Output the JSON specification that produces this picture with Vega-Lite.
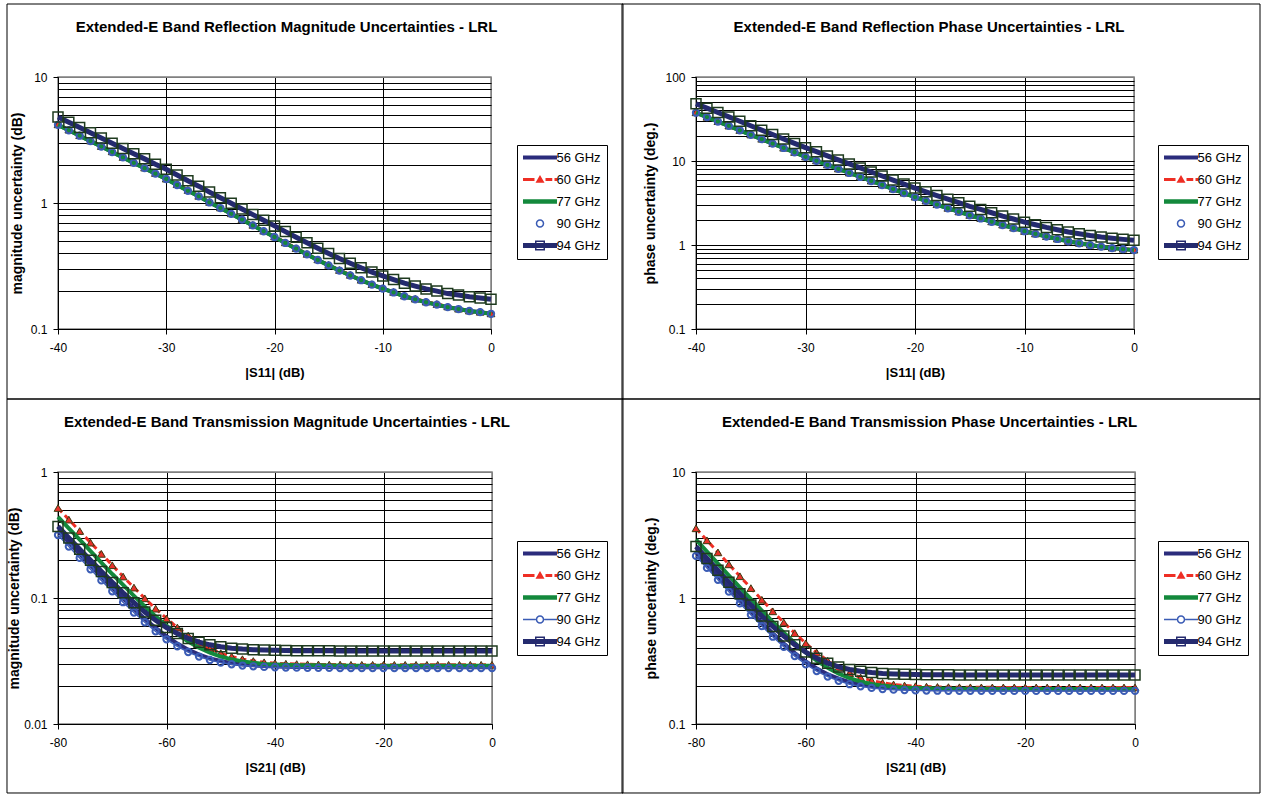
{
"$schema": "https://vega.github.io/schema/vega-lite/v6.json",
"background": "white",
"padding": {"left": 5, "top": 2, "right": 2, "bottom": 1},
"config": {
 "font": "Liberation Sans",
 "view": {"stroke": "#808080", "strokeWidth": 1.5},
 "axis": {"domainColor": "#000000", "domainWidth": 1, "tickColor": "#000000", "tickSize": 5, "tickWidth": 1, "gridColor": "#000000", "gridWidth": 1, "gridOpacity": 1, "labelFontSize": 12, "labelColor": "#000000", "labelPadding": 6, "labelFlush": false, "labelOverlap": false, "titleFontWeight": "bold", "titleColor": "#000000", "labelFont": "Liberation Sans", "titleFont": "Liberation Sans"},
 "axisX": {"titlePadding": 13, "titleFontSize": 13, "labelPadding": 8},
 "axisY": {"titleFontSize": 14},
 "title": {"fontSize": 15, "fontWeight": "bold", "color": "#000000", "font": "Liberation Sans"},
 "legend": {"title": null, "symbolSize": 100, "symbolStrokeWidth": 0, "symbolOffset": 10.5, "labelOffset": 10, "padding": 6, "rowPadding": 8, "strokeColor": "#000000", "fillColor": "#ffffff", "labelFontSize": 13, "labelColor": "#000000", "labelFont": "Liberation Sans", "symbolOpacity": 1}
},
"datasets": {
"rm": [
{"x":-40,"56 GHz":4.17,"60 GHz":4.21,"77 GHz":4.17,"90 GHz":4.17,"94 GHz":4.82},
{"x":-39,"56 GHz":3.78,"60 GHz":3.82,"77 GHz":3.78,"90 GHz":3.78,"94 GHz":4.38},
{"x":-38,"56 GHz":3.42,"60 GHz":3.45,"77 GHz":3.42,"90 GHz":3.42,"94 GHz":3.98},
{"x":-37,"56 GHz":3.10,"60 GHz":3.13,"77 GHz":3.10,"90 GHz":3.10,"94 GHz":3.61},
{"x":-36,"56 GHz":2.81,"60 GHz":2.83,"77 GHz":2.81,"90 GHz":2.81,"94 GHz":3.28},
{"x":-35,"56 GHz":2.54,"60 GHz":2.57,"77 GHz":2.54,"90 GHz":2.54,"94 GHz":2.98},
{"x":-34,"56 GHz":2.30,"60 GHz":2.32,"77 GHz":2.30,"90 GHz":2.30,"94 GHz":2.71},
{"x":-33,"56 GHz":2.08,"60 GHz":2.10,"77 GHz":2.08,"90 GHz":2.08,"94 GHz":2.46},
{"x":-32,"56 GHz":1.89,"60 GHz":1.91,"77 GHz":1.89,"90 GHz":1.89,"94 GHz":2.24},
{"x":-31,"56 GHz":1.71,"60 GHz":1.73,"77 GHz":1.71,"90 GHz":1.71,"94 GHz":2.03},
{"x":-30,"56 GHz":1.55,"60 GHz":1.56,"77 GHz":1.55,"90 GHz":1.55,"94 GHz":1.85},
{"x":-29,"56 GHz":1.39,"60 GHz":1.41,"77 GHz":1.39,"90 GHz":1.39,"94 GHz":1.67},
{"x":-28,"56 GHz":1.25,"60 GHz":1.27,"77 GHz":1.25,"90 GHz":1.25,"94 GHz":1.50},
{"x":-27,"56 GHz":1.13,"60 GHz":1.14,"77 GHz":1.13,"90 GHz":1.13,"94 GHz":1.36},
{"x":-26,"56 GHz":1.01,"60 GHz":1.02,"77 GHz":1.01,"90 GHz":1.01,"94 GHz":1.22},
{"x":-25,"56 GHz":0.912,"60 GHz":0.921,"77 GHz":0.912,"90 GHz":0.912,"94 GHz":1.10},
{"x":-24,"56 GHz":0.820,"60 GHz":0.828,"77 GHz":0.820,"90 GHz":0.820,"94 GHz":0.994},
{"x":-23,"56 GHz":0.738,"60 GHz":0.745,"77 GHz":0.738,"90 GHz":0.738,"94 GHz":0.897},
{"x":-22,"56 GHz":0.664,"60 GHz":0.671,"77 GHz":0.664,"90 GHz":0.664,"94 GHz":0.809},
{"x":-21,"56 GHz":0.597,"60 GHz":0.603,"77 GHz":0.597,"90 GHz":0.597,"94 GHz":0.730},
{"x":-20,"56 GHz":0.537,"60 GHz":0.542,"77 GHz":0.537,"90 GHz":0.537,"94 GHz":0.658},
{"x":-19,"56 GHz":0.482,"60 GHz":0.487,"77 GHz":0.482,"90 GHz":0.482,"94 GHz":0.593},
{"x":-18,"56 GHz":0.434,"60 GHz":0.438,"77 GHz":0.434,"90 GHz":0.434,"94 GHz":0.535},
{"x":-17,"56 GHz":0.391,"60 GHz":0.395,"77 GHz":0.391,"90 GHz":0.391,"94 GHz":0.484},
{"x":-16,"56 GHz":0.353,"60 GHz":0.357,"77 GHz":0.353,"90 GHz":0.353,"94 GHz":0.438},
{"x":-15,"56 GHz":0.320,"60 GHz":0.323,"77 GHz":0.320,"90 GHz":0.320,"94 GHz":0.398},
{"x":-14,"56 GHz":0.291,"60 GHz":0.294,"77 GHz":0.291,"90 GHz":0.291,"94 GHz":0.363},
{"x":-13,"56 GHz":0.266,"60 GHz":0.269,"77 GHz":0.266,"90 GHz":0.266,"94 GHz":0.333},
{"x":-12,"56 GHz":0.244,"60 GHz":0.246,"77 GHz":0.244,"90 GHz":0.244,"94 GHz":0.306},
{"x":-11,"56 GHz":0.225,"60 GHz":0.227,"77 GHz":0.225,"90 GHz":0.225,"94 GHz":0.283},
{"x":-10,"56 GHz":0.209,"60 GHz":0.211,"77 GHz":0.209,"90 GHz":0.209,"94 GHz":0.264},
{"x":-9,"56 GHz":0.195,"60 GHz":0.197,"77 GHz":0.195,"90 GHz":0.195,"94 GHz":0.247},
{"x":-8,"56 GHz":0.182,"60 GHz":0.184,"77 GHz":0.182,"90 GHz":0.182,"94 GHz":0.231},
{"x":-7,"56 GHz":0.172,"60 GHz":0.174,"77 GHz":0.172,"90 GHz":0.172,"94 GHz":0.219},
{"x":-6,"56 GHz":0.163,"60 GHz":0.165,"77 GHz":0.163,"90 GHz":0.163,"94 GHz":0.208},
{"x":-5,"56 GHz":0.156,"60 GHz":0.158,"77 GHz":0.156,"90 GHz":0.156,"94 GHz":0.200},
{"x":-4,"56 GHz":0.149,"60 GHz":0.151,"77 GHz":0.149,"90 GHz":0.149,"94 GHz":0.191},
{"x":-3,"56 GHz":0.144,"60 GHz":0.145,"77 GHz":0.144,"90 GHz":0.144,"94 GHz":0.186},
{"x":-2,"56 GHz":0.139,"60 GHz":0.140,"77 GHz":0.139,"90 GHz":0.139,"94 GHz":0.180},
{"x":-1,"56 GHz":0.136,"60 GHz":0.137,"77 GHz":0.136,"90 GHz":0.136,"94 GHz":0.176},
{"x":0,"56 GHz":0.132,"60 GHz":0.133,"77 GHz":0.132,"90 GHz":0.132,"94 GHz":0.172}
],
"rp": [
{"x":-40,"56 GHz":37.6,"60 GHz":38.0,"77 GHz":37.6,"90 GHz":37.6,"94 GHz":48.1},
{"x":-39,"56 GHz":33.3,"60 GHz":33.6,"77 GHz":33.3,"90 GHz":33.3,"94 GHz":42.6},
{"x":-38,"56 GHz":29.5,"60 GHz":29.8,"77 GHz":29.5,"90 GHz":29.5,"94 GHz":37.8},
{"x":-37,"56 GHz":26.2,"60 GHz":26.4,"77 GHz":26.2,"90 GHz":26.2,"94 GHz":33.5},
{"x":-36,"56 GHz":23.2,"60 GHz":23.4,"77 GHz":23.2,"90 GHz":23.2,"94 GHz":29.7},
{"x":-35,"56 GHz":20.5,"60 GHz":20.7,"77 GHz":20.5,"90 GHz":20.5,"94 GHz":26.3},
{"x":-34,"56 GHz":18.2,"60 GHz":18.4,"77 GHz":18.2,"90 GHz":18.2,"94 GHz":23.3},
{"x":-33,"56 GHz":16.1,"60 GHz":16.3,"77 GHz":16.1,"90 GHz":16.1,"94 GHz":20.7},
{"x":-32,"56 GHz":14.3,"60 GHz":14.4,"77 GHz":14.3,"90 GHz":14.3,"94 GHz":18.3},
{"x":-31,"56 GHz":12.7,"60 GHz":12.8,"77 GHz":12.7,"90 GHz":12.7,"94 GHz":16.2},
{"x":-30,"56 GHz":11.2,"60 GHz":11.3,"77 GHz":11.2,"90 GHz":11.2,"94 GHz":14.4},
{"x":-29,"56 GHz":10.05,"60 GHz":10.15,"77 GHz":10.05,"90 GHz":10.05,"94 GHz":12.9},
{"x":-28,"56 GHz":8.99,"60 GHz":9.08,"77 GHz":8.99,"90 GHz":8.99,"94 GHz":11.5},
{"x":-27,"56 GHz":8.05,"60 GHz":8.13,"77 GHz":8.05,"90 GHz":8.05,"94 GHz":10.3},
{"x":-26,"56 GHz":7.21,"60 GHz":7.28,"77 GHz":7.21,"90 GHz":7.21,"94 GHz":9.23},
{"x":-25,"56 GHz":6.46,"60 GHz":6.52,"77 GHz":6.46,"90 GHz":6.46,"94 GHz":8.27},
{"x":-24,"56 GHz":5.78,"60 GHz":5.84,"77 GHz":5.78,"90 GHz":5.78,"94 GHz":7.40},
{"x":-23,"56 GHz":5.18,"60 GHz":5.23,"77 GHz":5.18,"90 GHz":5.18,"94 GHz":6.63},
{"x":-22,"56 GHz":4.63,"60 GHz":4.68,"77 GHz":4.63,"90 GHz":4.63,"94 GHz":5.93},
{"x":-21,"56 GHz":4.15,"60 GHz":4.19,"77 GHz":4.15,"90 GHz":4.15,"94 GHz":5.31},
{"x":-20,"56 GHz":3.72,"60 GHz":3.76,"77 GHz":3.72,"90 GHz":3.72,"94 GHz":4.76},
{"x":-19,"56 GHz":3.35,"60 GHz":3.38,"77 GHz":3.35,"90 GHz":3.35,"94 GHz":4.29},
{"x":-18,"56 GHz":3.03,"60 GHz":3.06,"77 GHz":3.03,"90 GHz":3.03,"94 GHz":3.88},
{"x":-17,"56 GHz":2.74,"60 GHz":2.77,"77 GHz":2.74,"90 GHz":2.74,"94 GHz":3.51},
{"x":-16,"56 GHz":2.49,"60 GHz":2.51,"77 GHz":2.49,"90 GHz":2.49,"94 GHz":3.19},
{"x":-15,"56 GHz":2.26,"60 GHz":2.28,"77 GHz":2.26,"90 GHz":2.26,"94 GHz":2.89},
{"x":-14,"56 GHz":2.07,"60 GHz":2.09,"77 GHz":2.07,"90 GHz":2.07,"94 GHz":2.65},
{"x":-13,"56 GHz":1.89,"60 GHz":1.91,"77 GHz":1.89,"90 GHz":1.89,"94 GHz":2.42},
{"x":-12,"56 GHz":1.73,"60 GHz":1.75,"77 GHz":1.73,"90 GHz":1.73,"94 GHz":2.21},
{"x":-11,"56 GHz":1.59,"60 GHz":1.61,"77 GHz":1.59,"90 GHz":1.59,"94 GHz":2.04},
{"x":-10,"56 GHz":1.46,"60 GHz":1.47,"77 GHz":1.46,"90 GHz":1.46,"94 GHz":1.87},
{"x":-9,"56 GHz":1.355,"60 GHz":1.37,"77 GHz":1.355,"90 GHz":1.355,"94 GHz":1.74},
{"x":-8,"56 GHz":1.262,"60 GHz":1.275,"77 GHz":1.262,"90 GHz":1.262,"94 GHz":1.62},
{"x":-7,"56 GHz":1.18,"60 GHz":1.19,"77 GHz":1.18,"90 GHz":1.18,"94 GHz":1.52},
{"x":-6,"56 GHz":1.109,"60 GHz":1.12,"77 GHz":1.109,"90 GHz":1.109,"94 GHz":1.43},
{"x":-5,"56 GHz":1.05,"60 GHz":1.06,"77 GHz":1.05,"90 GHz":1.05,"94 GHz":1.36},
{"x":-4,"56 GHz":0.998,"60 GHz":1.008,"77 GHz":0.998,"90 GHz":0.998,"94 GHz":1.295},
{"x":-3,"56 GHz":0.955,"60 GHz":0.965,"77 GHz":0.955,"90 GHz":0.955,"94 GHz":1.242},
{"x":-2,"56 GHz":0.92,"60 GHz":0.929,"77 GHz":0.92,"90 GHz":0.92,"94 GHz":1.2},
{"x":-1,"56 GHz":0.893,"60 GHz":0.902,"77 GHz":0.893,"90 GHz":0.893,"94 GHz":1.167},
{"x":0,"56 GHz":0.871,"60 GHz":0.88,"77 GHz":0.871,"90 GHz":0.871,"94 GHz":1.141}
],
"tm": [
{"x":-80,"56 GHz":0.341,"60 GHz":0.518,"77 GHz":0.441,"90 GHz":0.316,"94 GHz":0.370},
{"x":-78,"56 GHz":0.277,"60 GHz":0.419,"77 GHz":0.357,"90 GHz":0.256,"94 GHz":0.300},
{"x":-76,"56 GHz":0.224,"60 GHz":0.340,"77 GHz":0.290,"90 GHz":0.208,"94 GHz":0.244},
{"x":-74,"56 GHz":0.182,"60 GHz":0.275,"77 GHz":0.235,"90 GHz":0.169,"94 GHz":0.199},
{"x":-72,"56 GHz":0.148,"60 GHz":0.224,"77 GHz":0.191,"90 GHz":0.138,"94 GHz":0.162},
{"x":-70,"56 GHz":0.121,"60 GHz":0.182,"77 GHz":0.155,"90 GHz":0.113,"94 GHz":0.133},
{"x":-68,"56 GHz":0.0995,"60 GHz":0.148,"77 GHz":0.127,"90 GHz":0.0926,"94 GHz":0.110},
{"x":-66,"56 GHz":0.0822,"60 GHz":0.121,"77 GHz":0.104,"90 GHz":0.0767,"94 GHz":0.0918},
{"x":-64,"56 GHz":0.0685,"60 GHz":0.0994,"77 GHz":0.0859,"90 GHz":0.0642,"94 GHz":0.0775},
{"x":-62,"56 GHz":0.0579,"60 GHz":0.0823,"77 GHz":0.0715,"90 GHz":0.0544,"94 GHz":0.0666},
{"x":-60,"56 GHz":0.0497,"60 GHz":0.0688,"77 GHz":0.0603,"90 GHz":0.0470,"94 GHz":0.0583},
{"x":-58,"56 GHz":0.0435,"60 GHz":0.0583,"77 GHz":0.0517,"90 GHz":0.0414,"94 GHz":0.0522},
{"x":-56,"56 GHz":0.0389,"60 GHz":0.0503,"77 GHz":0.0452,"90 GHz":0.0373,"94 GHz":0.0478},
{"x":-54,"56 GHz":0.0356,"60 GHz":0.0442,"77 GHz":0.0403,"90 GHz":0.0343,"94 GHz":0.0446},
{"x":-52,"56 GHz":0.0332,"60 GHz":0.0397,"77 GHz":0.0368,"90 GHz":0.0322,"94 GHz":0.0425},
{"x":-50,"56 GHz":0.0316,"60 GHz":0.0365,"77 GHz":0.0343,"90 GHz":0.0307,"94 GHz":0.0410},
{"x":-48,"56 GHz":0.0304,"60 GHz":0.0343,"77 GHz":0.0326,"90 GHz":0.0298,"94 GHz":0.0400},
{"x":-46,"56 GHz":0.0297,"60 GHz":0.0327,"77 GHz":0.0314,"90 GHz":0.0291,"94 GHz":0.0393},
{"x":-44,"56 GHz":0.0292,"60 GHz":0.0316,"77 GHz":0.0306,"90 GHz":0.0287,"94 GHz":0.0389},
{"x":-42,"56 GHz":0.0288,"60 GHz":0.0309,"77 GHz":0.0300,"90 GHz":0.0284,"94 GHz":0.0386},
{"x":-40,"56 GHz":0.0286,"60 GHz":0.0304,"77 GHz":0.0297,"90 GHz":0.0282,"94 GHz":0.0384},
{"x":-38,"56 GHz":0.0285,"60 GHz":0.0301,"77 GHz":0.0295,"90 GHz":0.0281,"94 GHz":0.0383},
{"x":-36,"56 GHz":0.0284,"60 GHz":0.0299,"77 GHz":0.0293,"90 GHz":0.0280,"94 GHz":0.0382},
{"x":-34,"56 GHz":0.0283,"60 GHz":0.0298,"77 GHz":0.0292,"90 GHz":0.0279,"94 GHz":0.0381},
{"x":-32,"56 GHz":0.0283,"60 GHz":0.0297,"77 GHz":0.0292,"90 GHz":0.0279,"94 GHz":0.0381},
{"x":-30,"56 GHz":0.0283,"60 GHz":0.0296,"77 GHz":0.0291,"90 GHz":0.0279,"94 GHz":0.0381},
{"x":-28,"56 GHz":0.0282,"60 GHz":0.0296,"77 GHz":0.0291,"90 GHz":0.0278,"94 GHz":0.0380},
{"x":-26,"56 GHz":0.0282,"60 GHz":0.0295,"77 GHz":0.0290,"90 GHz":0.0278,"94 GHz":0.0380},
{"x":-24,"56 GHz":0.0282,"60 GHz":0.0295,"77 GHz":0.0290,"90 GHz":0.0278,"94 GHz":0.0380},
{"x":-22,"56 GHz":0.0282,"60 GHz":0.0295,"77 GHz":0.0290,"90 GHz":0.0278,"94 GHz":0.0380},
{"x":-20,"56 GHz":0.0282,"60 GHz":0.0295,"77 GHz":0.0290,"90 GHz":0.0278,"94 GHz":0.0380},
{"x":-18,"56 GHz":0.0282,"60 GHz":0.0295,"77 GHz":0.0290,"90 GHz":0.0278,"94 GHz":0.0380},
{"x":-16,"56 GHz":0.0282,"60 GHz":0.0295,"77 GHz":0.0290,"90 GHz":0.0278,"94 GHz":0.0380},
{"x":-14,"56 GHz":0.0282,"60 GHz":0.0295,"77 GHz":0.0290,"90 GHz":0.0278,"94 GHz":0.0380},
{"x":-12,"56 GHz":0.0282,"60 GHz":0.0295,"77 GHz":0.0290,"90 GHz":0.0278,"94 GHz":0.0380},
{"x":-10,"56 GHz":0.0282,"60 GHz":0.0295,"77 GHz":0.0290,"90 GHz":0.0278,"94 GHz":0.0380},
{"x":-8,"56 GHz":0.0282,"60 GHz":0.0295,"77 GHz":0.0290,"90 GHz":0.0278,"94 GHz":0.0380},
{"x":-6,"56 GHz":0.0282,"60 GHz":0.0295,"77 GHz":0.0290,"90 GHz":0.0278,"94 GHz":0.0380},
{"x":-4,"56 GHz":0.0282,"60 GHz":0.0295,"77 GHz":0.0290,"90 GHz":0.0278,"94 GHz":0.0380},
{"x":-2,"56 GHz":0.0282,"60 GHz":0.0295,"77 GHz":0.0290,"90 GHz":0.0278,"94 GHz":0.0380},
{"x":0,"56 GHz":0.0282,"60 GHz":0.0295,"77 GHz":0.0290,"90 GHz":0.0278,"94 GHz":0.0380}
],
"tp": [
{"x":-80,"56 GHz":2.308,"60 GHz":3.575,"77 GHz":2.906,"90 GHz":2.158,"94 GHz":2.562},
{"x":-78,"56 GHz":1.853,"60 GHz":2.869,"77 GHz":2.333,"90 GHz":1.734,"94 GHz":2.059},
{"x":-76,"56 GHz":1.490,"60 GHz":2.302,"77 GHz":1.873,"90 GHz":1.394,"94 GHz":1.657},
{"x":-74,"56 GHz":1.200,"60 GHz":1.850,"77 GHz":1.506,"90 GHz":1.123,"94 GHz":1.336},
{"x":-72,"56 GHz":0.969,"60 GHz":1.488,"77 GHz":1.213,"90 GHz":0.907,"94 GHz":1.082},
{"x":-70,"56 GHz":0.784,"60 GHz":1.198,"77 GHz":0.979,"90 GHz":0.735,"94 GHz":0.879},
{"x":-68,"56 GHz":0.639,"60 GHz":0.968,"77 GHz":0.793,"90 GHz":0.599,"94 GHz":0.720},
{"x":-66,"56 GHz":0.524,"60 GHz":0.784,"77 GHz":0.646,"90 GHz":0.493,"94 GHz":0.595},
{"x":-64,"56 GHz":0.435,"60 GHz":0.639,"77 GHz":0.530,"90 GHz":0.410,"94 GHz":0.499},
{"x":-62,"56 GHz":0.366,"60 GHz":0.526,"77 GHz":0.440,"90 GHz":0.346,"94 GHz":0.426},
{"x":-60,"56 GHz":0.314,"60 GHz":0.437,"77 GHz":0.370,"90 GHz":0.298,"94 GHz":0.372},
{"x":-58,"56 GHz":0.276,"60 GHz":0.369,"77 GHz":0.318,"90 GHz":0.263,"94 GHz":0.332},
{"x":-56,"56 GHz":0.248,"60 GHz":0.318,"77 GHz":0.279,"90 GHz":0.238,"94 GHz":0.304},
{"x":-54,"56 GHz":0.229,"60 GHz":0.281,"77 GHz":0.251,"90 GHz":0.220,"94 GHz":0.284},
{"x":-52,"56 GHz":0.215,"60 GHz":0.253,"77 GHz":0.231,"90 GHz":0.207,"94 GHz":0.271},
{"x":-50,"56 GHz":0.2057,"60 GHz":0.234,"77 GHz":0.217,"90 GHz":0.1989,"94 GHz":0.262},
{"x":-48,"56 GHz":0.1996,"60 GHz":0.221,"77 GHz":0.208,"90 GHz":0.1934,"94 GHz":0.256},
{"x":-46,"56 GHz":0.1955,"60 GHz":0.212,"77 GHz":0.2017,"90 GHz":0.1897,"94 GHz":0.252},
{"x":-44,"56 GHz":0.1929,"60 GHz":0.206,"77 GHz":0.1976,"90 GHz":0.1874,"94 GHz":0.2496},
{"x":-42,"56 GHz":0.1911,"60 GHz":0.202,"77 GHz":0.1949,"90 GHz":0.1858,"94 GHz":0.248},
{"x":-40,"56 GHz":0.19,"60 GHz":0.1997,"77 GHz":0.1932,"90 GHz":0.1848,"94 GHz":0.2469},
{"x":-38,"56 GHz":0.1893,"60 GHz":0.198,"77 GHz":0.192,"90 GHz":0.1842,"94 GHz":0.2462},
{"x":-36,"56 GHz":0.1889,"60 GHz":0.1969,"77 GHz":0.1913,"90 GHz":0.1838,"94 GHz":0.2458},
{"x":-34,"56 GHz":0.1886,"60 GHz":0.1962,"77 GHz":0.1908,"90 GHz":0.1836,"94 GHz":0.2455},
{"x":-32,"56 GHz":0.1884,"60 GHz":0.1958,"77 GHz":0.1906,"90 GHz":0.1834,"94 GHz":0.2453},
{"x":-30,"56 GHz":0.1883,"60 GHz":0.1956,"77 GHz":0.1904,"90 GHz":0.1833,"94 GHz":0.2452},
{"x":-28,"56 GHz":0.1882,"60 GHz":0.1954,"77 GHz":0.1903,"90 GHz":0.1832,"94 GHz":0.2451},
{"x":-26,"56 GHz":0.1881,"60 GHz":0.1953,"77 GHz":0.1902,"90 GHz":0.1831,"94 GHz":0.245},
{"x":-24,"56 GHz":0.188,"60 GHz":0.1952,"77 GHz":0.19,"90 GHz":0.183,"94 GHz":0.245},
{"x":-22,"56 GHz":0.188,"60 GHz":0.1952,"77 GHz":0.19,"90 GHz":0.183,"94 GHz":0.245},
{"x":-20,"56 GHz":0.188,"60 GHz":0.1951,"77 GHz":0.19,"90 GHz":0.183,"94 GHz":0.245},
{"x":-18,"56 GHz":0.188,"60 GHz":0.1951,"77 GHz":0.19,"90 GHz":0.183,"94 GHz":0.245},
{"x":-16,"56 GHz":0.188,"60 GHz":0.195,"77 GHz":0.19,"90 GHz":0.183,"94 GHz":0.245},
{"x":-14,"56 GHz":0.188,"60 GHz":0.195,"77 GHz":0.19,"90 GHz":0.183,"94 GHz":0.245},
{"x":-12,"56 GHz":0.188,"60 GHz":0.195,"77 GHz":0.19,"90 GHz":0.183,"94 GHz":0.245},
{"x":-10,"56 GHz":0.188,"60 GHz":0.195,"77 GHz":0.19,"90 GHz":0.183,"94 GHz":0.245},
{"x":-8,"56 GHz":0.188,"60 GHz":0.195,"77 GHz":0.19,"90 GHz":0.183,"94 GHz":0.245},
{"x":-6,"56 GHz":0.188,"60 GHz":0.195,"77 GHz":0.19,"90 GHz":0.183,"94 GHz":0.245},
{"x":-4,"56 GHz":0.188,"60 GHz":0.195,"77 GHz":0.19,"90 GHz":0.183,"94 GHz":0.245},
{"x":-2,"56 GHz":0.188,"60 GHz":0.195,"77 GHz":0.19,"90 GHz":0.183,"94 GHz":0.245},
{"x":0,"56 GHz":0.188,"60 GHz":0.195,"77 GHz":0.19,"90 GHz":0.183,"94 GHz":0.245}
]
},
"concat": [
{
 "width": 433, "height": 252,
 "data": {"name": "rm"},
 "transform": [{"fold": ["56 GHz","60 GHz","77 GHz","90 GHz","94 GHz"], "as": ["series","v"]}],
 "title": {"text": "Extended-E Band Reflection Magnitude Uncertainties - LRL", "frame": "group", "anchor": "middle", "dx": 12, "offset": -31},
 "encoding": {
  "x": {"field": "x", "type": "quantitative", "scale": {"domain": [-40, 0], "nice": false, "zero": false},
   "axis": {"values": [-40,-30,-20,-10,0], "title": "|S11| (dB)", "labelExpr": "'' + datum.value", "gridColor": {"condition": {"test": "datum.value === 0", "value": "#808080"}, "value": "#000000"}}},
  "y": {"field": "v", "type": "quantitative", "scale": {"type": "log", "domain": [0.1, 10], "nice": false},
   "axis": {"values": [0.1,0.2,0.3,0.4,0.5,0.6,0.7,0.8,0.9,1,2,3,4,5,6,7,8,9,10], "title": "magnitude uncertainty (dB)", "titlePadding": 6,
    "labelExpr": "indexof([0.01,0.1,1,10,100], datum.value) >= 0 ? '' + datum.value : ''",
    "tickOpacity": {"condition": {"test": "indexof([0.01,0.1,1,10,100], datum.value) < 0", "value": 0}, "value": 1},
    "gridColor": {"condition": {"test": "datum.value === 10", "value": "#808080"}, "value": "#000000"}}}
 },
 "layer": [
  {"transform": [{"filter": "datum.series === '56 GHz'"}], "mark": {"type": "line", "color": "#2b2c7c", "strokeWidth": 4}},
  {"transform": [{"filter": "datum.series === '60 GHz'"}], "mark": {"type": "line", "color": "#ee2e24", "strokeWidth": 3, "strokeDash": [6,4]}},
  {"transform": [{"filter": "datum.series === '60 GHz'"}], "mark": {"type": "point", "shape": "triangle-up", "filled": true, "fill": "#e8312a", "stroke": "#3b3b12", "strokeWidth": 1, "size": 60, "opacity": 1}},
  {"transform": [{"filter": "datum.series === '77 GHz'"}], "mark": {"type": "line", "color": "#13893c", "strokeWidth": 4}},
  {"transform": [{"filter": "datum.series === '90 GHz'"}], "mark": {"type": "point", "shape": "circle", "filled": false, "stroke": "#3b5cb5", "strokeWidth": 2, "size": 40, "opacity": 1}},
  {"transform": [{"filter": "datum.series === '94 GHz'"}], "mark": {"type": "line", "color": "#242a6e", "strokeWidth": 5}},
  {"transform": [{"filter": "datum.series === '94 GHz'"}], "mark": {"type": "point", "shape": "square", "filled": false, "stroke": "#1e3a1e", "strokeWidth": 1.5, "size": 100, "opacity": 1}},
  {"transform": [{"filter": "false"}], "mark": {"type": "point", "filled": true, "opacity": 1, "strokeWidth": 0},
   "encoding": {
    "color": {"field": "series", "type": "nominal", "scale": {"domain": ["56 GHz","60 GHz","77 GHz","90 GHz","94 GHz"], "range": ["#2b2c7c","#ee2e24","#13893c","#3b5cb5","#242a6e"]}, "legend": {"orient": "none", "legendX": 459, "legendY": 68}},
    "shape": {"field": "series", "type": "nominal", "scale": {"domain": ["56 GHz","60 GHz","77 GHz","90 GHz","94 GHz"], "range": ["M-3.4,-0.4H3.4V0.4H-3.4Z", "M-3.4,-0.3H-1.1V0.3H-3.4ZM1.1,-0.3H2.45V0.3H1.1ZM2.9,-0.3H3.4V0.3H2.9ZM0,-0.9L0.9,0.65H-0.9Z", "M-3.4,-0.45H3.4V0.45H-3.4Z", "M-0.85,0A0.85,0.85 0 1 0 0.85,0A0.85,0.85 0 1 0 -0.85,0ZM-0.55,0A0.55,0.55 0 1 1 0.55,0A0.55,0.55 0 1 1 -0.55,0Z", "M-3.4,-0.5H3.4V0.5H-3.4ZM-1,-1H1V1H-1ZM-0.7,-0.7V0.7H0.7V-0.7Z"]}, "legend": {"orient": "none", "legendX": 459, "legendY": 68}}
   }},
  {"transform": [{"filter": "datum.series === '56 GHz' && datum.x === 0"}], "mark": {"type": "rect", "fill": "transparent", "stroke": "#000000", "strokeWidth": 1},
   "encoding": {"x": {"datum": -44.711}, "x2": {"datum": 12.194}, "y": {"datum": 37.96}, "y2": {"datum": 0.02782}}}
 ]
},
{
 "width": 438, "height": 252,
 "data": {"name": "rp"},
 "transform": [{"fold": ["56 GHz","60 GHz","77 GHz","90 GHz","94 GHz"], "as": ["series","v"]}],
 "title": {"text": "Extended-E Band Reflection Phase Uncertainties - LRL", "frame": "group", "anchor": "middle", "dx": 14, "offset": -31},
 "encoding": {
  "x": {"field": "x", "type": "quantitative", "scale": {"domain": [-40, 0], "nice": false, "zero": false},
   "axis": {"values": [-40,-30,-20,-10,0], "title": "|S11| (dB)", "labelExpr": "'' + datum.value", "gridColor": {"condition": {"test": "datum.value === 0", "value": "#808080"}, "value": "#000000"}}},
  "y": {"field": "v", "type": "quantitative", "scale": {"type": "log", "domain": [0.1, 100], "nice": false},
   "axis": {"values": [0.1,0.2,0.3,0.4,0.5,0.6,0.7,0.8,0.9,1,2,3,4,5,6,7,8,9,10,20,30,40,50,60,70,80,90,100], "title": "phase uncertainty (deg.)", "titlePadding": 7,
    "labelExpr": "indexof([0.01,0.1,1,10,100], datum.value) >= 0 ? '' + datum.value : ''",
    "tickOpacity": {"condition": {"test": "indexof([0.01,0.1,1,10,100], datum.value) < 0", "value": 0}, "value": 1},
    "gridColor": {"condition": {"test": "datum.value === 100", "value": "#808080"}, "value": "#000000"}}}
 },
 "layer": [
  {"transform": [{"filter": "datum.series === '56 GHz'"}], "mark": {"type": "line", "color": "#2b2c7c", "strokeWidth": 4}},
  {"transform": [{"filter": "datum.series === '60 GHz'"}], "mark": {"type": "line", "color": "#ee2e24", "strokeWidth": 3, "strokeDash": [6,4]}},
  {"transform": [{"filter": "datum.series === '60 GHz'"}], "mark": {"type": "point", "shape": "triangle-up", "filled": true, "fill": "#e8312a", "stroke": "#3b3b12", "strokeWidth": 1, "size": 60, "opacity": 1}},
  {"transform": [{"filter": "datum.series === '77 GHz'"}], "mark": {"type": "line", "color": "#13893c", "strokeWidth": 4}},
  {"transform": [{"filter": "datum.series === '90 GHz'"}], "mark": {"type": "point", "shape": "circle", "filled": false, "stroke": "#3b5cb5", "strokeWidth": 2, "size": 40, "opacity": 1}},
  {"transform": [{"filter": "datum.series === '94 GHz'"}], "mark": {"type": "line", "color": "#242a6e", "strokeWidth": 5}},
  {"transform": [{"filter": "datum.series === '94 GHz'"}], "mark": {"type": "point", "shape": "square", "filled": false, "stroke": "#1e3a1e", "strokeWidth": 1.5, "size": 100, "opacity": 1}},
  {"transform": [{"filter": "false"}], "mark": {"type": "point", "filled": true, "opacity": 1, "strokeWidth": 0},
   "encoding": {
    "color": {"field": "series", "type": "nominal", "scale": {"domain": ["56 GHz","60 GHz","77 GHz","90 GHz","94 GHz"], "range": ["#2b2c7c","#ee2e24","#13893c","#3b5cb5","#242a6e"]}, "legend": {"orient": "none", "legendX": 462, "legendY": 68}},
    "shape": {"field": "series", "type": "nominal", "scale": {"domain": ["56 GHz","60 GHz","77 GHz","90 GHz","94 GHz"], "range": ["M-3.4,-0.4H3.4V0.4H-3.4Z", "M-3.4,-0.3H-1.1V0.3H-3.4ZM1.1,-0.3H2.45V0.3H1.1ZM2.9,-0.3H3.4V0.3H2.9ZM0,-0.9L0.9,0.65H-0.9Z", "M-3.4,-0.45H3.4V0.45H-3.4Z", "M-0.85,0A0.85,0.85 0 1 0 0.85,0A0.85,0.85 0 1 0 -0.85,0ZM-0.55,0A0.55,0.55 0 1 1 0.55,0A0.55,0.55 0 1 1 -0.55,0Z", "M-3.4,-0.5H3.4V0.5H-3.4ZM-1,-1H1V1H-1ZM-0.7,-0.7V0.7H0.7V-0.7Z"]}, "legend": {"orient": "none", "legendX": 462, "legendY": 68}}
   }},
  {"transform": [{"filter": "datum.series === '56 GHz' && datum.x === 0"}], "mark": {"type": "rect", "fill": "transparent", "stroke": "#000000", "strokeWidth": 1},
   "encoding": {"x": {"datum": -46.758}, "x2": {"datum": 11.507}, "y": {"datum": 739.6}, "y2": {"datum": 0.01468}}}
 ]
},
{
 "width": 434, "height": 252,
 "data": {"name": "tm"},
 "transform": [{"fold": ["56 GHz","60 GHz","77 GHz","90 GHz","94 GHz"], "as": ["series","v"]}],
 "title": {"text": "Extended-E Band Transmission Magnitude Uncertainties - LRL", "frame": "group", "anchor": "middle", "dx": 12, "offset": -31},
 "encoding": {
  "x": {"field": "x", "type": "quantitative", "scale": {"domain": [-80, 0], "nice": false, "zero": false},
   "axis": {"values": [-80,-60,-40,-20,0], "title": "|S21| (dB)", "labelExpr": "'' + datum.value", "gridColor": {"condition": {"test": "datum.value === 0", "value": "#808080"}, "value": "#000000"}}},
  "y": {"field": "v", "type": "quantitative", "scale": {"type": "log", "domain": [0.01, 1], "nice": false},
   "axis": {"values": [0.01,0.02,0.03,0.04,0.05,0.06,0.07,0.08,0.09,0.1,0.2,0.3,0.4,0.5,0.6,0.7,0.8,0.9,1], "title": "magnitude uncertainty (dB)", "titlePadding": 2,
    "labelExpr": "indexof([0.01,0.1,1,10,100], datum.value) >= 0 ? '' + datum.value : ''",
    "tickOpacity": {"condition": {"test": "indexof([0.01,0.1,1,10,100], datum.value) < 0", "value": 0}, "value": 1},
    "gridColor": {"condition": {"test": "datum.value === 1", "value": "#808080"}, "value": "#000000"}}}
 },
 "layer": [
  {"transform": [{"filter": "datum.series === '56 GHz'"}], "mark": {"type": "line", "color": "#2b2c7c", "strokeWidth": 4}},
  {"transform": [{"filter": "datum.series === '60 GHz'"}], "mark": {"type": "line", "color": "#ee2e24", "strokeWidth": 3, "strokeDash": [6,4]}},
  {"transform": [{"filter": "datum.series === '60 GHz'"}], "mark": {"type": "point", "shape": "triangle-up", "filled": true, "fill": "#e8312a", "stroke": "#3b3b12", "strokeWidth": 1, "size": 60, "opacity": 1}},
  {"transform": [{"filter": "datum.series === '77 GHz'"}], "mark": {"type": "line", "color": "#13893c", "strokeWidth": 4}},
  {"transform": [{"filter": "datum.series === '90 GHz'"}], "mark": {"type": "line", "color": "#3b5cb5", "strokeWidth": 1.5}},
  {"transform": [{"filter": "datum.series === '90 GHz'"}], "mark": {"type": "point", "shape": "circle", "filled": false, "stroke": "#3b5cb5", "strokeWidth": 2, "size": 40, "opacity": 1}},
  {"transform": [{"filter": "datum.series === '94 GHz'"}], "mark": {"type": "line", "color": "#242a6e", "strokeWidth": 5}},
  {"transform": [{"filter": "datum.series === '94 GHz'"}], "mark": {"type": "point", "shape": "square", "filled": false, "stroke": "#1e3a1e", "strokeWidth": 1.5, "size": 100, "opacity": 1}},
  {"transform": [{"filter": "false"}], "mark": {"type": "point", "filled": true, "opacity": 1, "strokeWidth": 0},
   "encoding": {
    "color": {"field": "series", "type": "nominal", "scale": {"domain": ["56 GHz","60 GHz","77 GHz","90 GHz","94 GHz"], "range": ["#2b2c7c","#ee2e24","#13893c","#3b5cb5","#242a6e"]}, "legend": {"orient": "none", "legendX": 459, "legendY": 69}},
    "shape": {"field": "series", "type": "nominal", "scale": {"domain": ["56 GHz","60 GHz","77 GHz","90 GHz","94 GHz"], "range": ["M-3.4,-0.4H3.4V0.4H-3.4Z", "M-3.4,-0.3H-1.1V0.3H-3.4ZM1.1,-0.3H2.45V0.3H1.1ZM2.9,-0.3H3.4V0.3H2.9ZM0,-0.9L0.9,0.65H-0.9Z", "M-3.4,-0.45H3.4V0.45H-3.4Z", "M-3.4,-0.15H-0.85V0.15H-3.4ZM0.85,-0.15H3.4V0.15H0.85ZM-0.85,0A0.85,0.85 0 1 0 0.85,0A0.85,0.85 0 1 0 -0.85,0ZM-0.55,0A0.55,0.55 0 1 1 0.55,0A0.55,0.55 0 1 1 -0.55,0Z", "M-3.4,-0.5H3.4V0.5H-3.4ZM-1,-1H1V1H-1ZM-0.7,-0.7V0.7H0.7V-0.7Z"]}, "legend": {"orient": "none", "legendX": 459, "legendY": 69}}
   }},
  {"transform": [{"filter": "datum.series === '56 GHz' && datum.x === 0"}], "mark": {"type": "rect", "fill": "transparent", "stroke": "#000000", "strokeWidth": 1},
   "encoding": {"x": {"datum": -89.401}, "x2": {"datum": 24.147}, "y": {"datum": 3.796}, "y2": {"datum": 0.002834}}}
 ]
},
{
 "width": 439, "height": 252,
 "data": {"name": "tp"},
 "transform": [{"fold": ["56 GHz","60 GHz","77 GHz","90 GHz","94 GHz"], "as": ["series","v"]}],
 "title": {"text": "Extended-E Band Transmission Phase Uncertainties - LRL", "frame": "group", "anchor": "middle", "dx": 14, "offset": -31},
 "encoding": {
  "x": {"field": "x", "type": "quantitative", "scale": {"domain": [-80, 0], "nice": false, "zero": false},
   "axis": {"values": [-80,-60,-40,-20,0], "title": "|S21| (dB)", "labelExpr": "'' + datum.value", "gridColor": {"condition": {"test": "datum.value === 0", "value": "#808080"}, "value": "#000000"}}},
  "y": {"field": "v", "type": "quantitative", "scale": {"type": "log", "domain": [0.1, 10], "nice": false},
   "axis": {"values": [0.1,0.2,0.3,0.4,0.5,0.6,0.7,0.8,0.9,1,2,3,4,5,6,7,8,9,10], "title": "phase uncertainty (deg.)", "titlePadding": 10,
    "labelExpr": "indexof([0.01,0.1,1,10,100], datum.value) >= 0 ? '' + datum.value : ''",
    "tickOpacity": {"condition": {"test": "indexof([0.01,0.1,1,10,100], datum.value) < 0", "value": 0}, "value": 1},
    "gridColor": {"condition": {"test": "datum.value === 10", "value": "#808080"}, "value": "#000000"}}}
 },
 "layer": [
  {"transform": [{"filter": "datum.series === '56 GHz'"}], "mark": {"type": "line", "color": "#2b2c7c", "strokeWidth": 4}},
  {"transform": [{"filter": "datum.series === '60 GHz'"}], "mark": {"type": "line", "color": "#ee2e24", "strokeWidth": 3, "strokeDash": [6,4]}},
  {"transform": [{"filter": "datum.series === '60 GHz'"}], "mark": {"type": "point", "shape": "triangle-up", "filled": true, "fill": "#e8312a", "stroke": "#3b3b12", "strokeWidth": 1, "size": 60, "opacity": 1}},
  {"transform": [{"filter": "datum.series === '77 GHz'"}], "mark": {"type": "line", "color": "#13893c", "strokeWidth": 4}},
  {"transform": [{"filter": "datum.series === '90 GHz'"}], "mark": {"type": "line", "color": "#3b5cb5", "strokeWidth": 1.5}},
  {"transform": [{"filter": "datum.series === '90 GHz'"}], "mark": {"type": "point", "shape": "circle", "filled": false, "stroke": "#3b5cb5", "strokeWidth": 2, "size": 40, "opacity": 1}},
  {"transform": [{"filter": "datum.series === '94 GHz'"}], "mark": {"type": "line", "color": "#242a6e", "strokeWidth": 5}},
  {"transform": [{"filter": "datum.series === '94 GHz'"}], "mark": {"type": "point", "shape": "square", "filled": false, "stroke": "#1e3a1e", "strokeWidth": 1.5, "size": 100, "opacity": 1}},
  {"transform": [{"filter": "false"}], "mark": {"type": "point", "filled": true, "opacity": 1, "strokeWidth": 0},
   "encoding": {
    "color": {"field": "series", "type": "nominal", "scale": {"domain": ["56 GHz","60 GHz","77 GHz","90 GHz","94 GHz"], "range": ["#2b2c7c","#ee2e24","#13893c","#3b5cb5","#242a6e"]}, "legend": {"orient": "none", "legendX": 462, "legendY": 69}},
    "shape": {"field": "series", "type": "nominal", "scale": {"domain": ["56 GHz","60 GHz","77 GHz","90 GHz","94 GHz"], "range": ["M-3.4,-0.4H3.4V0.4H-3.4Z", "M-3.4,-0.3H-1.1V0.3H-3.4ZM1.1,-0.3H2.45V0.3H1.1ZM2.9,-0.3H3.4V0.3H2.9ZM0,-0.9L0.9,0.65H-0.9Z", "M-3.4,-0.45H3.4V0.45H-3.4Z", "M-3.4,-0.15H-0.85V0.15H-3.4ZM0.85,-0.15H3.4V0.15H0.85ZM-0.85,0A0.85,0.85 0 1 0 0.85,0A0.85,0.85 0 1 0 -0.85,0ZM-0.55,0A0.55,0.55 0 1 1 0.55,0A0.55,0.55 0 1 1 -0.55,0Z", "M-3.4,-0.5H3.4V0.5H-3.4ZM-1,-1H1V1H-1ZM-0.7,-0.7V0.7H0.7V-0.7Z"]}, "legend": {"orient": "none", "legendX": 462, "legendY": 69}}
   }},
  {"transform": [{"filter": "datum.series === '56 GHz' && datum.x === 0"}], "mark": {"type": "rect", "fill": "transparent", "stroke": "#000000", "strokeWidth": 1},
   "encoding": {"x": {"datum": -93.485}, "x2": {"datum": 22.779}, "y": {"datum": 37.96}, "y2": {"datum": 0.02834}}}
 ]
}
],
"columns": 2,
"align": "all",
"bounds": "flush",
"spacing": {"row": 143, "column": 199},
"resolve": {"scale": {"color": "independent", "shape": "independent"}, "legend": {"color": "independent", "shape": "independent"}}
}
